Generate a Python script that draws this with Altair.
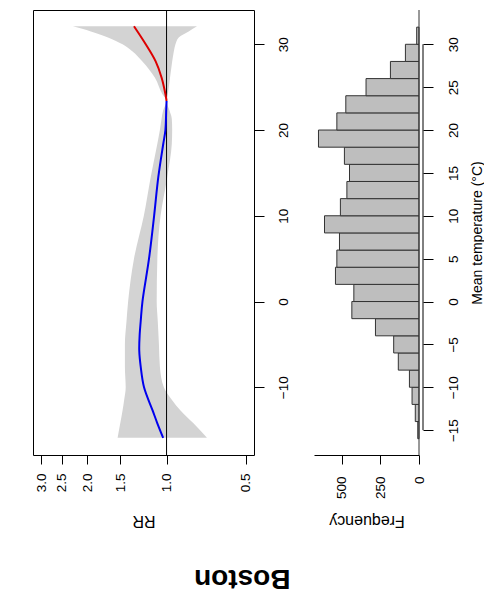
import altair as alt
import pandas as pd

FONT = "Liberation Sans"

# Cumulative relative risk by daily mean temperature (°C), cold side up to the MMT
cold_temp = [-15.9, -14.2, -12.7, -10.0, -7.6, -5.7, -3.8, -2.3, 0.0, 5.0, 10.0, 14.5, 18.4, 20.0, 22.3, 23.4]
cold_rr = [1.03, 1.084, 1.13, 1.218, 1.254, 1.27, 1.265, 1.254, 1.235, 1.166, 1.115, 1.075, 1.029, 1.01, 1.003, 1.0]
# heat side above the MMT
heat_temp = [23.4, 24.2, 26.1, 28.0, 30.0, 32.1]
heat_rr = [1.0, 1.01, 1.044, 1.10, 1.20, 1.33]

# 95% confidence band
ci_temp = [-15.9, -14.2, -12.7, -11.5, -10.0, -7.6, -5.0, -2.3, 0.0, 5.0, 10.0, 14.5, 18.4, 20.0,
           21.3, 22.3, 23.4, 24.2, 26.1, 28.0, 29.2, 30.0, 30.8, 31.5, 32.1]
ci_low = [0.702, 0.79, 0.885, 0.952, 1.024, 1.06, 1.069, 1.08, 1.09, 1.084, 1.054, 0.994, 0.955, 0.952,
          0.955, 0.975, 1.0, 0.989, 0.97, 0.952, 0.938, 0.925, 0.899, 0.824, 0.766]
ci_high = [1.535, 1.50, 1.47, 1.45, 1.43, 1.44, 1.44, 1.42, 1.40, 1.33, 1.22, 1.149, 1.084, 1.06,
           1.045, 1.03, 1.0, 1.038, 1.107, 1.235, 1.35, 1.47, 1.67, 1.94, 2.27]

# Histogram of daily mean temperature, 2 °C bins (left edges)
bin_start = list(range(-16, 32, 2))
bin_count = [8, 24, 45, 62, 134, 164, 282, 435, 422, 541, 532, 515, 612, 509, 467, 450, 483, 651,
             532, 474, 343, 185, 88, 15]

rr_ticks = [0.5, 1.0, 1.5, 2.0, 2.5, 3.0]
temp_ticks = [-10, 0, 10, 20, 30]
hist_temp_ticks = list(range(-15, 31, 5))
freq_ticks = [0, 250, 500]

W1, W2, H = 221, 105, 445

cold_df = pd.DataFrame({"temp": cold_temp, "rr": cold_rr})
heat_df = pd.DataFrame({"temp": heat_temp, "rr": heat_rr})
ci_df = pd.DataFrame({"temp": ci_temp, "lo": ci_low, "hi": ci_high})
hist_df = pd.DataFrame({"lo": bin_start, "hi": [b + 2 for b in bin_start],
                        "count": bin_count, "zero": [0] * len(bin_start)})

temp_scale = alt.Scale(domain=[-17.9, 34.0], nice=False, zero=False)
rr_scale = alt.Scale(type="log", domain=[0.465, 3.22], reverse=True, nice=False)
freq_scale = alt.Scale(domain=[0, 680], reverse=True, nice=False, zero=False)

rr_axis = alt.Axis(
    orient="bottom", values=rr_ticks, format=".1f", grid=False, domain=False,
    tickSize=9, labelAngle=270, labelAlign="right", labelBaseline="middle", labelPadding=9,
    title="RR", titleAngle=180, titleAlign="center", titleBaseline="alphabetic",
    titleX=W1 / 2, titleY=60, titleFontSize=16,
)
temp_axis = alt.Axis(
    orient="right", values=temp_ticks, format="d", grid=False, domain=False,
    tickSize=10, labelAngle=270, labelAlign="center", labelBaseline="top", labelPadding=12,
    title=None,
)
freq_axis = alt.Axis(
    orient="bottom", values=freq_ticks, format="d", grid=False, domain=True,
    tickSize=9, labelAngle=270, labelAlign="right", labelBaseline="middle", labelPadding=12,
    title="Frequency", titleAngle=180, titleAlign="center", titleBaseline="alphabetic",
    titleX=W2 / 2, titleY=60, titleFontSize=16,
)
hist_temp_axis = alt.Axis(
    orient="right", values=hist_temp_ticks, format="d", grid=False, domain=False, offset=4,
    tickSize=10, labelAngle=270, labelAlign="center", labelBaseline="top", labelPadding=13,
    title="Mean temperature (°C)", titleAngle=270, titleAlign="center", titleBaseline="alphabetic",
    titleX=58, titleY=H / 2, titleFontSize=14,
)

# --- exposure-response panel ---
band = alt.Chart(ci_df).mark_area(orient="horizontal", color="#d3d3d3", interpolate="monotone").encode(
    y=alt.Y("temp:Q", scale=temp_scale, axis=temp_axis),
    x=alt.X("lo:Q", scale=rr_scale, axis=rr_axis),
    x2="hi:Q",
)
ref_line = alt.Chart(pd.DataFrame({"rr": [1.0]})).mark_rule(color="black", strokeWidth=1).encode(
    x=alt.X("rr:Q", axis=rr_axis)
)
cold_line = alt.Chart(cold_df).mark_line(color="#0000ee", strokeWidth=2, interpolate="catmull-rom").encode(
    y=alt.Y("temp:Q", axis=temp_axis), x=alt.X("rr:Q", axis=rr_axis), order="temp:Q"
)
heat_line = alt.Chart(heat_df).mark_line(color="#dd0000", strokeWidth=2, interpolate="catmull-rom").encode(
    y=alt.Y("temp:Q", axis=temp_axis), x=alt.X("rr:Q", axis=rr_axis), order="temp:Q"
)
rr_panel = alt.layer(band, ref_line, cold_line, heat_line).properties(
    width=W1, height=H, view=alt.ViewBackground(stroke="black", strokeWidth=1)
)

# --- temperature histogram panel ---
bars = alt.Chart(hist_df).mark_rect(fill="#bebebe", stroke="#333333", strokeWidth=1).encode(
    y=alt.Y("lo:Q", scale=temp_scale, axis=hist_temp_axis),
    y2="hi:Q",
    x=alt.X("count:Q", scale=freq_scale, axis=freq_axis),
    x2="zero:Q",
)
base_line = alt.Chart(pd.DataFrame({"zero": [0]})).mark_rule(color="#333333", strokeWidth=1).encode(
    x=alt.X("zero:Q", axis=freq_axis)
)
temp_axis_line = alt.Chart(
    pd.DataFrame({"lo": [min(hist_temp_ticks)], "hi": [max(hist_temp_ticks)]})
).mark_rule(color="black", strokeWidth=1).encode(
    y=alt.Y("lo:Q", axis=hist_temp_axis), y2="hi:Q", x=alt.value(W2 + 4)
)
hist_panel = alt.layer(bars, base_line, temp_axis_line).properties(width=W2, height=H)

chart = alt.hconcat(rr_panel, hist_panel, spacing=60, bounds="flush").properties(
    title=alt.TitleParams(
        "Boston", orient="bottom", angle=180, fontSize=28, fontWeight="bold", font=FONT,
        baseline="alphabetic", anchor="middle", offset=41, dx=16, color="black",
    ),
    padding={"left": 32, "top": 9, "right": 0, "bottom": 0},
).configure_view(stroke=None).configure_axis(
    labelFont=FONT, titleFont=FONT, labelFontSize=13.5, labelColor="black",
    titleColor="black", titleFontWeight="normal", tickColor="black", domainColor="black",
    labelOverlap=False,
)

chart.save("out.html", embed_options={"renderer": "svg", "actions": False})
